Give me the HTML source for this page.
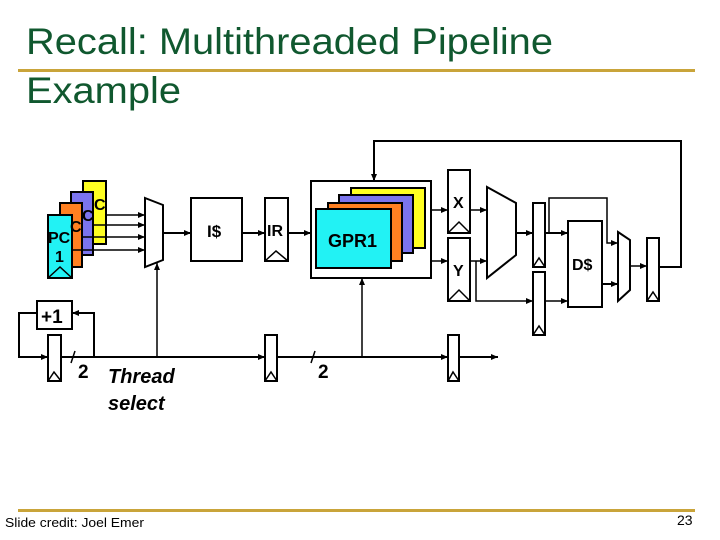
<!DOCTYPE html>
<html><head><style>
html,body{margin:0;padding:0;background:#fff;}
body{width:720px;height:540px;overflow:hidden;position:relative;font-family:"Liberation Sans",Arial,sans-serif;}
</style></head><body>
<svg width="720" height="540" viewBox="0 0 720 540" xmlns="http://www.w3.org/2000/svg" style="position:absolute;left:0;top:0">
<defs>
<marker id="a" markerWidth="8" markerHeight="8" refX="7" refY="4" orient="auto" markerUnits="userSpaceOnUse">
<path d="M0,1 L7,4 L0,7 z" fill="#000"/></marker>
</defs>
<text x="26" y="54" font-size="37" fill="#10582f" font-family="Liberation Sans, sans-serif" textLength="527" lengthAdjust="spacingAndGlyphs">Recall: Multithreaded Pipeline</text>
<text x="26" y="103" font-size="37" fill="#10582f" font-family="Liberation Sans, sans-serif" textLength="155" lengthAdjust="spacingAndGlyphs">Example</text>
<rect x="18" y="69" width="677" height="3" fill="#c9a43a"/>
<rect x="18" y="509" width="677" height="3" fill="#c9a43a"/>
<text x="5" y="527" font-size="13" fill="#000" textLength="139" lengthAdjust="spacingAndGlyphs">Slide credit: Joel Emer</text>
<text x="677" y="525" font-size="14" fill="#000">23</text>

<g stroke="#000" stroke-width="2" fill="none">
<rect x="83" y="181" width="23" height="63" fill="#ffff22"/>
<rect x="71" y="192" width="22" height="63" fill="#7b74ee"/>
<rect x="60" y="203" width="22" height="64" fill="#ff8021"/>
<rect x="48" y="215" width="24" height="63" fill="#22f2f4"/>
<path d="M48,278 L60,267 L72,278" stroke-width="1.5"/>
<path d="M106,215 H145" marker-end="url(#a)" stroke-width="1.5"/>
<path d="M93,225 H145" marker-end="url(#a)" stroke-width="1.5"/>
<path d="M82,237 H145" marker-end="url(#a)" stroke-width="1.5"/>
<path d="M72,250 H145" marker-end="url(#a)" stroke-width="1.5"/>
<path d="M145,198 L163,205 L163,260 L145,267 Z" fill="#fff"/>
<path d="M163,233 H191" marker-end="url(#a)"/>
<rect x="191" y="198" width="51" height="63" fill="#fff"/>
<path d="M242,233 H265" marker-end="url(#a)"/>
<rect x="265" y="198" width="23" height="63" fill="#fff"/>
<path d="M265,261 L276,251 L288,261" stroke-width="1.5"/>
<path d="M288,233 H311" marker-end="url(#a)"/>
<rect x="311" y="181" width="120" height="97" fill="#fff"/>
<rect x="351" y="188" width="74" height="60" fill="#ffff22"/>
<rect x="339" y="195" width="74" height="58" fill="#7b74ee"/>
<rect x="328" y="203" width="74" height="58" fill="#ff8021"/>
<rect x="316" y="209" width="75" height="59" fill="#22f2f4"/>
<path d="M658,267 H681 V141 H374 V181" marker-end="url(#a)"/>
<path d="M431,210 H448" marker-end="url(#a)" stroke-width="1.5"/>
<path d="M431,261 H448" marker-end="url(#a)" stroke-width="1.5"/>
<rect x="448" y="170" width="22" height="63" fill="#fff"/>
<path d="M448,233 L459,222 L470,233" stroke-width="1.5"/>
<rect x="448" y="238" width="22" height="63" fill="#fff"/>
<path d="M448,301 L459,290 L470,301" stroke-width="1.5"/>
<path d="M470,210 H487" marker-end="url(#a)" stroke-width="1.5"/>
<path d="M470,261 H487" marker-end="url(#a)" stroke-width="1.5"/>
<path d="M476,261 V301 H533" marker-end="url(#a)" stroke-width="1.5"/>
<path d="M487,187 L516,203 L516,255 L487,278 Z" fill="#fff"/>
<path d="M516,233 H533" marker-end="url(#a)"/>
<rect x="533" y="203" width="12" height="64" fill="#fff"/>
<path d="M533,267 L539,258 L545,267" stroke-width="1.5"/>
<rect x="533" y="272" width="12" height="63" fill="#fff"/>
<path d="M533,335 L539,326 L545,335" stroke-width="1.5"/>
<path d="M545,233 H568" marker-end="url(#a)"/>
<path d="M545,301 H568" marker-end="url(#a)" stroke-width="1.5"/>
<path d="M549,233 V198 H607 V243 H618" marker-end="url(#a)" stroke-width="1.5"/>
<rect x="568" y="221" width="34" height="86" fill="#fff"/>
<path d="M602,284 H618" marker-end="url(#a)"/>
<path d="M618,232 L630,240 L630,290 L618,301 Z" fill="#fff"/>
<path d="M630,266 H647" marker-end="url(#a)" stroke-width="1.5"/>
<rect x="647" y="238" width="12" height="63" fill="#fff"/>
<path d="M647,301 L653,292 L659,301" stroke-width="1.5"/>
<rect x="37" y="301" width="35" height="28" fill="#fff"/>
<path d="M48,357 H19 V313 H37"/>
<path d="M61,357 H94 V313 H72" marker-end="url(#a)"/>
<path d="M19,357 H48" marker-end="url(#a)"/>
<rect x="48" y="335" width="13" height="46" fill="#fff"/>
<path d="M48,381 L54,372 L61,381" stroke-width="1.5"/>
<path d="M94,357 H265" marker-end="url(#a)"/>
<path d="M157,357 V263" marker-end="url(#a)" stroke-width="1.5"/>
<rect x="265" y="335" width="12" height="46" fill="#fff"/>
<path d="M265,381 L271,372 L277,381" stroke-width="1.5"/>
<path d="M277,357 H448" marker-end="url(#a)"/>
<path d="M362,357 V278" marker-end="url(#a)" stroke-width="1.5"/>
<rect x="448" y="335" width="11" height="46" fill="#fff"/>
<path d="M448,381 L453,372 L459,381" stroke-width="1.5"/>
<path d="M459,357 H498" marker-end="url(#a)"/>
<path d="M71,363 L75,351" stroke-width="1.5"/>
<path d="M311,363 L315,351" stroke-width="1.5"/>
</g>
<g font-weight="bold" fill="#000" font-family="Liberation Sans, sans-serif">
<text x="94" y="210" font-size="16">C</text>
<text x="82" y="221" font-size="16">C</text>
<text x="70" y="232" font-size="16">C</text>
<text x="48" y="243" font-size="16">PC</text>
<text x="55" y="262" font-size="16">1</text>
<text x="207" y="237" font-size="17">I$</text>
<text x="267" y="236" font-size="16">IR</text>
<text x="328" y="247" font-size="18">GPR1</text>
<text x="453" y="208" font-size="16">X</text>
<text x="453" y="276" font-size="16">Y</text>
<text x="572" y="270" font-size="16">D$</text>
<text x="41" y="323" font-size="19">+1</text>
<text x="78" y="378" font-size="19">2</text>
<text x="318" y="378" font-size="19">2</text>
<text x="108" y="383" font-size="20" font-style="italic">Thread</text>
<text x="108" y="410" font-size="20" font-style="italic">select</text>
</g>
</svg>
</body></html>
